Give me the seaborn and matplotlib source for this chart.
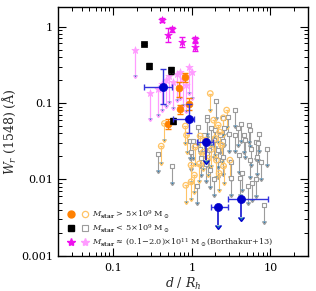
import numpy as np
import matplotlib
matplotlib.use("Agg")
import matplotlib.pyplot as plt
from matplotlib.lines import Line2D
from matplotlib.legend_handler import HandlerTuple
import seaborn as sns

sns.set_style("ticks", rc={'xtick.direction': 'in', 'ytick.direction': 'in',
                           'xtick.top': True, 'ytick.right': True})
plt.rcParams.update({'font.family': ['DejaVu Serif'], 'mathtext.fontset': 'dejavuserif'})

# ---------------- data ----------------
# gray open squares: M_star < 5e9, upper limits
gray_d = [2.06, 1.58, 2.52, 0.374, 0.568, 1.16, 0.95, 3.5, 2.86, 3.85, 4.25, 5.4, 5.55, 7.1,
          3.0, 2.52, 3.56, 4.57, 4.79, 5.73, 6.65, 9.15, 6.79, 7.5, 5.47, 3.93, 3.13, 4.34,
          3.13, 6.65, 5.85, 5.19, 4.13, 2.52, 2.17, 8.4, 7.0, 1.58, 1.78, 1.44, 1.9, 1.28,
          1.67, 2.17, 1.73, 1.32, 2.3, 2.54, 1.95, 1.53, 1.9, 1.2, 1.05, 0.98]
gray_w = [0.106, 0.066, 0.064, 0.0217, 0.0149, 0.0082, 0.0322, 0.082, 0.066, 0.0475, 0.0525,
          0.051, 0.045, 0.0391, 0.0391, 0.0322, 0.0387, 0.038, 0.0327, 0.0254, 0.0305, 0.0254,
          0.0198, 0.0168, 0.0179, 0.0208, 0.0168, 0.0120, 0.0105, 0.0101, 0.0090, 0.0082,
          0.0105, 0.0198, 0.0242, 0.0046, 0.0296, 0.0597, 0.0468, 0.038, 0.0325, 0.0248,
          0.0242, 0.0179, 0.0132, 0.019, 0.038, 0.0468, 0.0442, 0.016, 0.0103, 0.049,
          0.0322, 0.0227]

# orange open circles: M_star > 5e9, upper limits
ohi_d = [1.72, 0.45, 0.86, 0.41, 0.98, 1.08, 0.98, 0.84, 1.25, 2.78, 2.52, 2.17, 3.06, 2.23,
         0.83, 1.49, 1.78, 2.0, 2.39, 1.63, 1.4, 2.06, 2.54, 1.28, 1.9, 2.26, 1.1]
ohi_w = [0.133, 0.054, 0.038, 0.0273, 0.0154, 0.0114, 0.0093, 0.0084, 0.016, 0.0807, 0.064,
         0.0514, 0.0179, 0.012, 0.05, 0.0327, 0.0248, 0.0345, 0.0281, 0.019, 0.0227, 0.0179,
         0.015, 0.037, 0.0597, 0.0418, 0.0265]

# light pink stars: Borthakur+13 upper limits
pul_d = [0.19, 0.297, 0.374, 0.465, 0.51, 0.573, 0.646, 0.712, 0.77, 0.844, 0.93, 1.0, 0.425]
pul_w = [0.49, 0.135, 0.152, 0.2, 0.225, 0.188, 0.239, 0.254, 0.205, 0.171, 0.298, 0.254, 0.177]

# magenta stars: Borthakur+13 detections
pdet_d = [0.42, 0.504, 0.568, 0.749, 1.11, 1.11]
pdet_w = [1.22, 0.774, 0.918, 0.621, 0.68, 0.545]
pdet_elo = [0.06, 0.14, 0.06, 0.08, 0.05, 0.06]
pdet_ehi = [0.06, 0.18, 0.06, 0.10, 0.05, 0.06]

# orange filled circles: M_star > 5e9 detections
ohd_d = [0.819, 0.691, 0.712, 0.501, 0.923]
ohd_w = [0.220, 0.155, 0.0824, 0.0537, 0.0968]
ohd_elo = [0.03, 0.034, 0.01, 0.008, 0.015]
ohd_ehi = [0.03, 0.034, 0.012, 0.008, 0.02]

# black filled squares: M_star < 5e9 detections
old_d = [0.251, 0.283, 0.551, 0.585]
old_w = [0.585, 0.307, 0.270, 0.0585]
old_e = [0.02, 0.03, 0.03, 0.006]

# blue binned averages
bin_d = [0.434, 0.931, 1.53, 2.17, 4.28]
bin_w = [0.163, 0.0615, 0.031, 0.00438, 0.00552]
bin_dlo = [0.251, 0.585, 1.16, 1.74, 2.92]
bin_dhi = [0.556, 1.08, 1.87, 2.92, 9.42]
bin_wlo = [0.0976, 0.0408, 0.0, 0.0, 0.0]
bin_whi = [0.275, 0.0958, 0.0, 0.0, 0.0]
bin_limit = [False, False, True, True, True]

# ---------------- colours ----------------
c_gray = '#9c9c9c'
c_olight = '#ffc466'
c_orange = '#ff8000'
c_pink = '#ff9cff'
c_mag = '#ee10ee'
c_blue = '#0000cc'

XLIM = (0.02, 30)
YLIM = (0.001, 1.8)
RECT = [0.1835, 0.1203, 0.7912, 0.8557]

fig = plt.figure(figsize=(3.16, 2.91), dpi=100)
ax = fig.add_axes(RECT)
ax.set_xscale('log')
ax.set_yscale('log')


def arrows(ax, d, w, frac, color, lw=0.8, cap=1.6):
    d = np.asarray(d); w = np.asarray(w)
    ax.errorbar(d, w, yerr=[w * frac, np.zeros_like(w)], uplims=True, fmt='none',
                ecolor=color, elinewidth=lw, capsize=cap, zorder=2)


# gray upper limits
arrows(ax, gray_d, gray_w, 0.38, c_gray)
sns.scatterplot(x=gray_d, y=gray_w, marker='s', s=11, facecolor='white',
                edgecolor=c_gray, linewidth=0.8, ax=ax, zorder=3)

# orange open upper limits
arrows(ax, ohi_d, ohi_w, 0.38, c_olight)
sns.scatterplot(x=ohi_d, y=ohi_w, marker='o', s=16, facecolor='none',
                edgecolor=c_olight, linewidth=0.9, ax=ax, zorder=3)

# pink upper limits
arrows(ax, pul_d, pul_w, 0.53, c_pink, lw=0.9)
sns.scatterplot(x=pul_d, y=pul_w, marker='*', s=30, color=c_pink,
                edgecolor=c_pink, linewidth=0.5, ax=ax, zorder=3)

# magenta detections
ax.errorbar(pdet_d, pdet_w, yerr=[pdet_elo, pdet_ehi], fmt='none', ecolor=c_mag,
            elinewidth=0.9, capsize=2.2, zorder=4)
sns.scatterplot(x=pdet_d, y=pdet_w, marker='*', s=32, color=c_mag,
                edgecolor=c_mag, linewidth=0.5, ax=ax, zorder=5)

# orange detections
ax.errorbar(ohd_d, ohd_w, yerr=[ohd_elo, ohd_ehi], fmt='none', ecolor=c_orange,
            elinewidth=0.9, capsize=2.2, zorder=4)
sns.scatterplot(x=ohd_d, y=ohd_w, marker='o', s=24, color=c_orange,
                edgecolor=c_orange, linewidth=0.5, ax=ax, zorder=5)

# black detections
ax.errorbar(old_d, old_w, yerr=old_e, fmt='none', ecolor='black',
            elinewidth=0.9, capsize=2.2, zorder=4)
sns.scatterplot(x=old_d, y=old_w, marker='s', s=16, color='black',
                edgecolor='black', linewidth=0.5, ax=ax, zorder=5)

# blue binned points
bd = np.asarray(bin_d); bw = np.asarray(bin_w)
xerr = [bd - np.asarray(bin_dlo), np.asarray(bin_dhi) - bd]
ax.errorbar(bd, bw, xerr=xerr, fmt='none', ecolor='#3333dd', elinewidth=1.0,
            capsize=2.5, zorder=6)
lim = np.asarray(bin_limit)
ax.errorbar(bd[~lim], bw[~lim], yerr=[bw[~lim] - np.asarray(bin_wlo)[~lim],
                                      np.asarray(bin_whi)[~lim] - bw[~lim]],
            fmt='none', ecolor='#3333dd', elinewidth=1.0, capsize=2.5, zorder=6)
ax.errorbar(bd[lim], bw[lim], yerr=[bw[lim] * 0.42, np.zeros(lim.sum())], uplims=True,
            fmt='none', ecolor=c_blue, elinewidth=1.1, capsize=2.0, zorder=6)
sns.scatterplot(x=bin_d, y=bin_w, marker='o', s=34, color=c_blue,
                edgecolor=c_blue, linewidth=0.5, ax=ax, zorder=7)

ax.set_xlim(*XLIM)
ax.set_ylim(*YLIM)
ax.set_xlabel('')
ax.set_ylabel('')
ax.tick_params(which='both', length=0, labelbottom=False, labelleft=False,
               labeltop=False, labelright=False)
for s in ax.spines.values():
    s.set_visible(False)

# legend
h1 = (Line2D([], [], ls='none', marker='o', ms=5, mfc=c_orange, mec=c_orange),
      Line2D([], [], ls='none', marker='o', ms=4.5, mfc='none', mec=c_olight, mew=0.9))
h2 = (Line2D([], [], ls='none', marker='s', ms=4, mfc='black', mec='black'),
      Line2D([], [], ls='none', marker='s', ms=4, mfc='none', mec=c_gray, mew=0.8))
h3 = (Line2D([], [], ls='none', marker='*', ms=6, mfc=c_mag, mec=c_mag),
      Line2D([], [], ls='none', marker='*', ms=6, mfc=c_pink, mec=c_pink))
labels = [r'$\mathbf{\mathit{M}}_{\mathbf{star}}$ > 5×10$^9$ M$_\odot$',
          r'$\mathbf{\mathit{M}}_{\mathbf{star}}$ < 5×10$^9$ M$_\odot$',
          r'$\mathbf{\mathit{M}}_{\mathbf{star}}$ ≈ (0.1−2.0)×10$^{11}$ M$_\odot$(Borthakur+13)']
ax.legend([h1, h2, h3], labels, handler_map={tuple: HandlerTuple(ndivide=None, pad=1.4)},
          loc='lower left', bbox_to_anchor=(0.035, 0.02), frameon=False, fontsize=5.9,
          handlelength=2.0, handletextpad=0.7, labelspacing=0.2, borderaxespad=0.3,
          borderpad=0.1)

# frame axes carrying ticks, tick labels and axis labels (drawn on top)
fr = fig.add_axes(RECT)
fr.set_zorder(10)
fr.patch.set_visible(False)
fr.set_xscale('log')
fr.set_yscale('log')
fr.set_xlim(*XLIM)
fr.set_ylim(*YLIM)
fr.xaxis.set_major_locator(matplotlib.ticker.LogLocator(base=10, numticks=10))
fr.yaxis.set_major_locator(matplotlib.ticker.LogLocator(base=10, numticks=10))
fr.xaxis.set_minor_locator(matplotlib.ticker.LogLocator(base=10, subs=np.arange(2, 10), numticks=20))
fr.yaxis.set_minor_locator(matplotlib.ticker.LogLocator(base=10, subs=np.arange(2, 10), numticks=20))
fr.xaxis.set_major_formatter(matplotlib.ticker.FuncFormatter(lambda v, p: f'{v:g}'))
fr.yaxis.set_major_formatter(matplotlib.ticker.FuncFormatter(lambda v, p: f'{v:g}'))
fr.xaxis.set_minor_formatter(matplotlib.ticker.NullFormatter())
fr.yaxis.set_minor_formatter(matplotlib.ticker.NullFormatter())
fr.tick_params(which='both', direction='in', top=True, right=True, bottom=True, left=True,
               colors='black')
fr.tick_params(which='major', length=6, width=0.8, labelsize=8)
fr.tick_params(which='minor', length=3, width=0.7)
fr.tick_params(axis='x', which='major', pad=5)
for s in fr.spines.values():
    s.set_visible(True)
    s.set_linewidth(1.0)
    s.set_color('black')
fr.set_xlabel(r'$d$ / $R_h$', fontsize=9, labelpad=2)
fr.set_ylabel(r'$W_r$ (1548) (Å)', fontsize=9, labelpad=2)

fig.savefig('out.png', dpi=100)
